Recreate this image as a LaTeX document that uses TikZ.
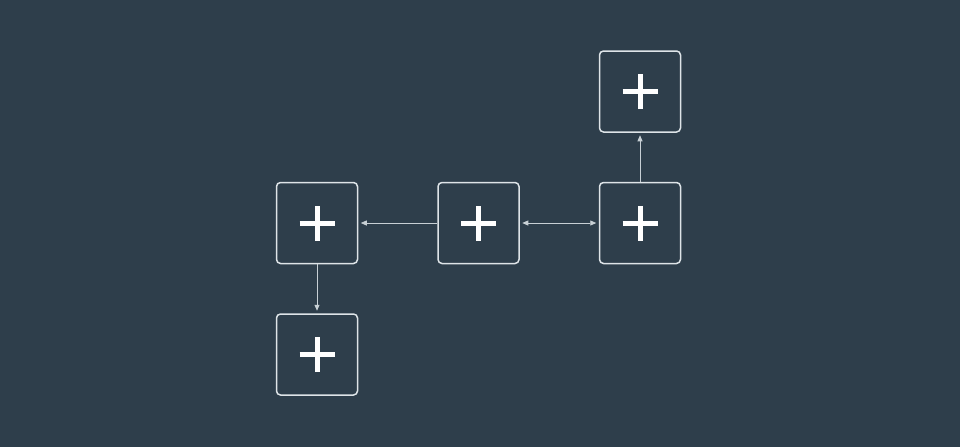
\documentclass[tikz,border=0pt]{standalone}
\usepackage{xcolor}
\usepackage{tikz}
\usetikzlibrary{positioning,arrows.meta}
\definecolor{bgslate}{RGB}{46,62,75}
\definecolor{boxline}{RGB}{222,228,232}
\definecolor{linkgray}{RGB}{200,208,213}

\begin{document}
\begin{tikzpicture}[x=1pt,y=-1pt]
\tikzstyle{every node}+=[inner sep=0pt]
\tikzstyle{tile}=[draw=boxline, line width=1.5pt, rounded corners=4pt, minimum size=81pt,
  path picture={\draw[white, line width=5pt] ([xshift=-17.5pt]path picture bounding box.center) -- ++(35pt,0pt)
    ([yshift=-17.5pt]path picture bounding box.center) -- ++(0pt,35pt);}]
\tikzstyle{link}=[linkgray, line width=0.8pt, -{Triangle[length=6pt,width=5pt]}, shorten >=2.5pt]
\fill [bgslate] (0,0) rectangle (960,447);
\useasboundingbox (0,0) rectangle (960,447);
\node [tile] (mid) at (478.5,223) {};
\node [tile, left=79pt of mid] (left) {};
\node [tile, right=79pt of mid] (right) {};
\node [tile, above=49pt of right] (top) {};
\node [tile, below=49pt of left] (bottom) {};
\draw [link] (mid) -- (left);
\draw [link, {Triangle[length=6pt,width=5pt]}-{Triangle[length=6pt,width=5pt]}, shorten <=2.5pt] (mid) -- (right);
\draw [link] (right) -- (top);
\draw [link] (left) -- (bottom);
\end{tikzpicture}
\end{document}
